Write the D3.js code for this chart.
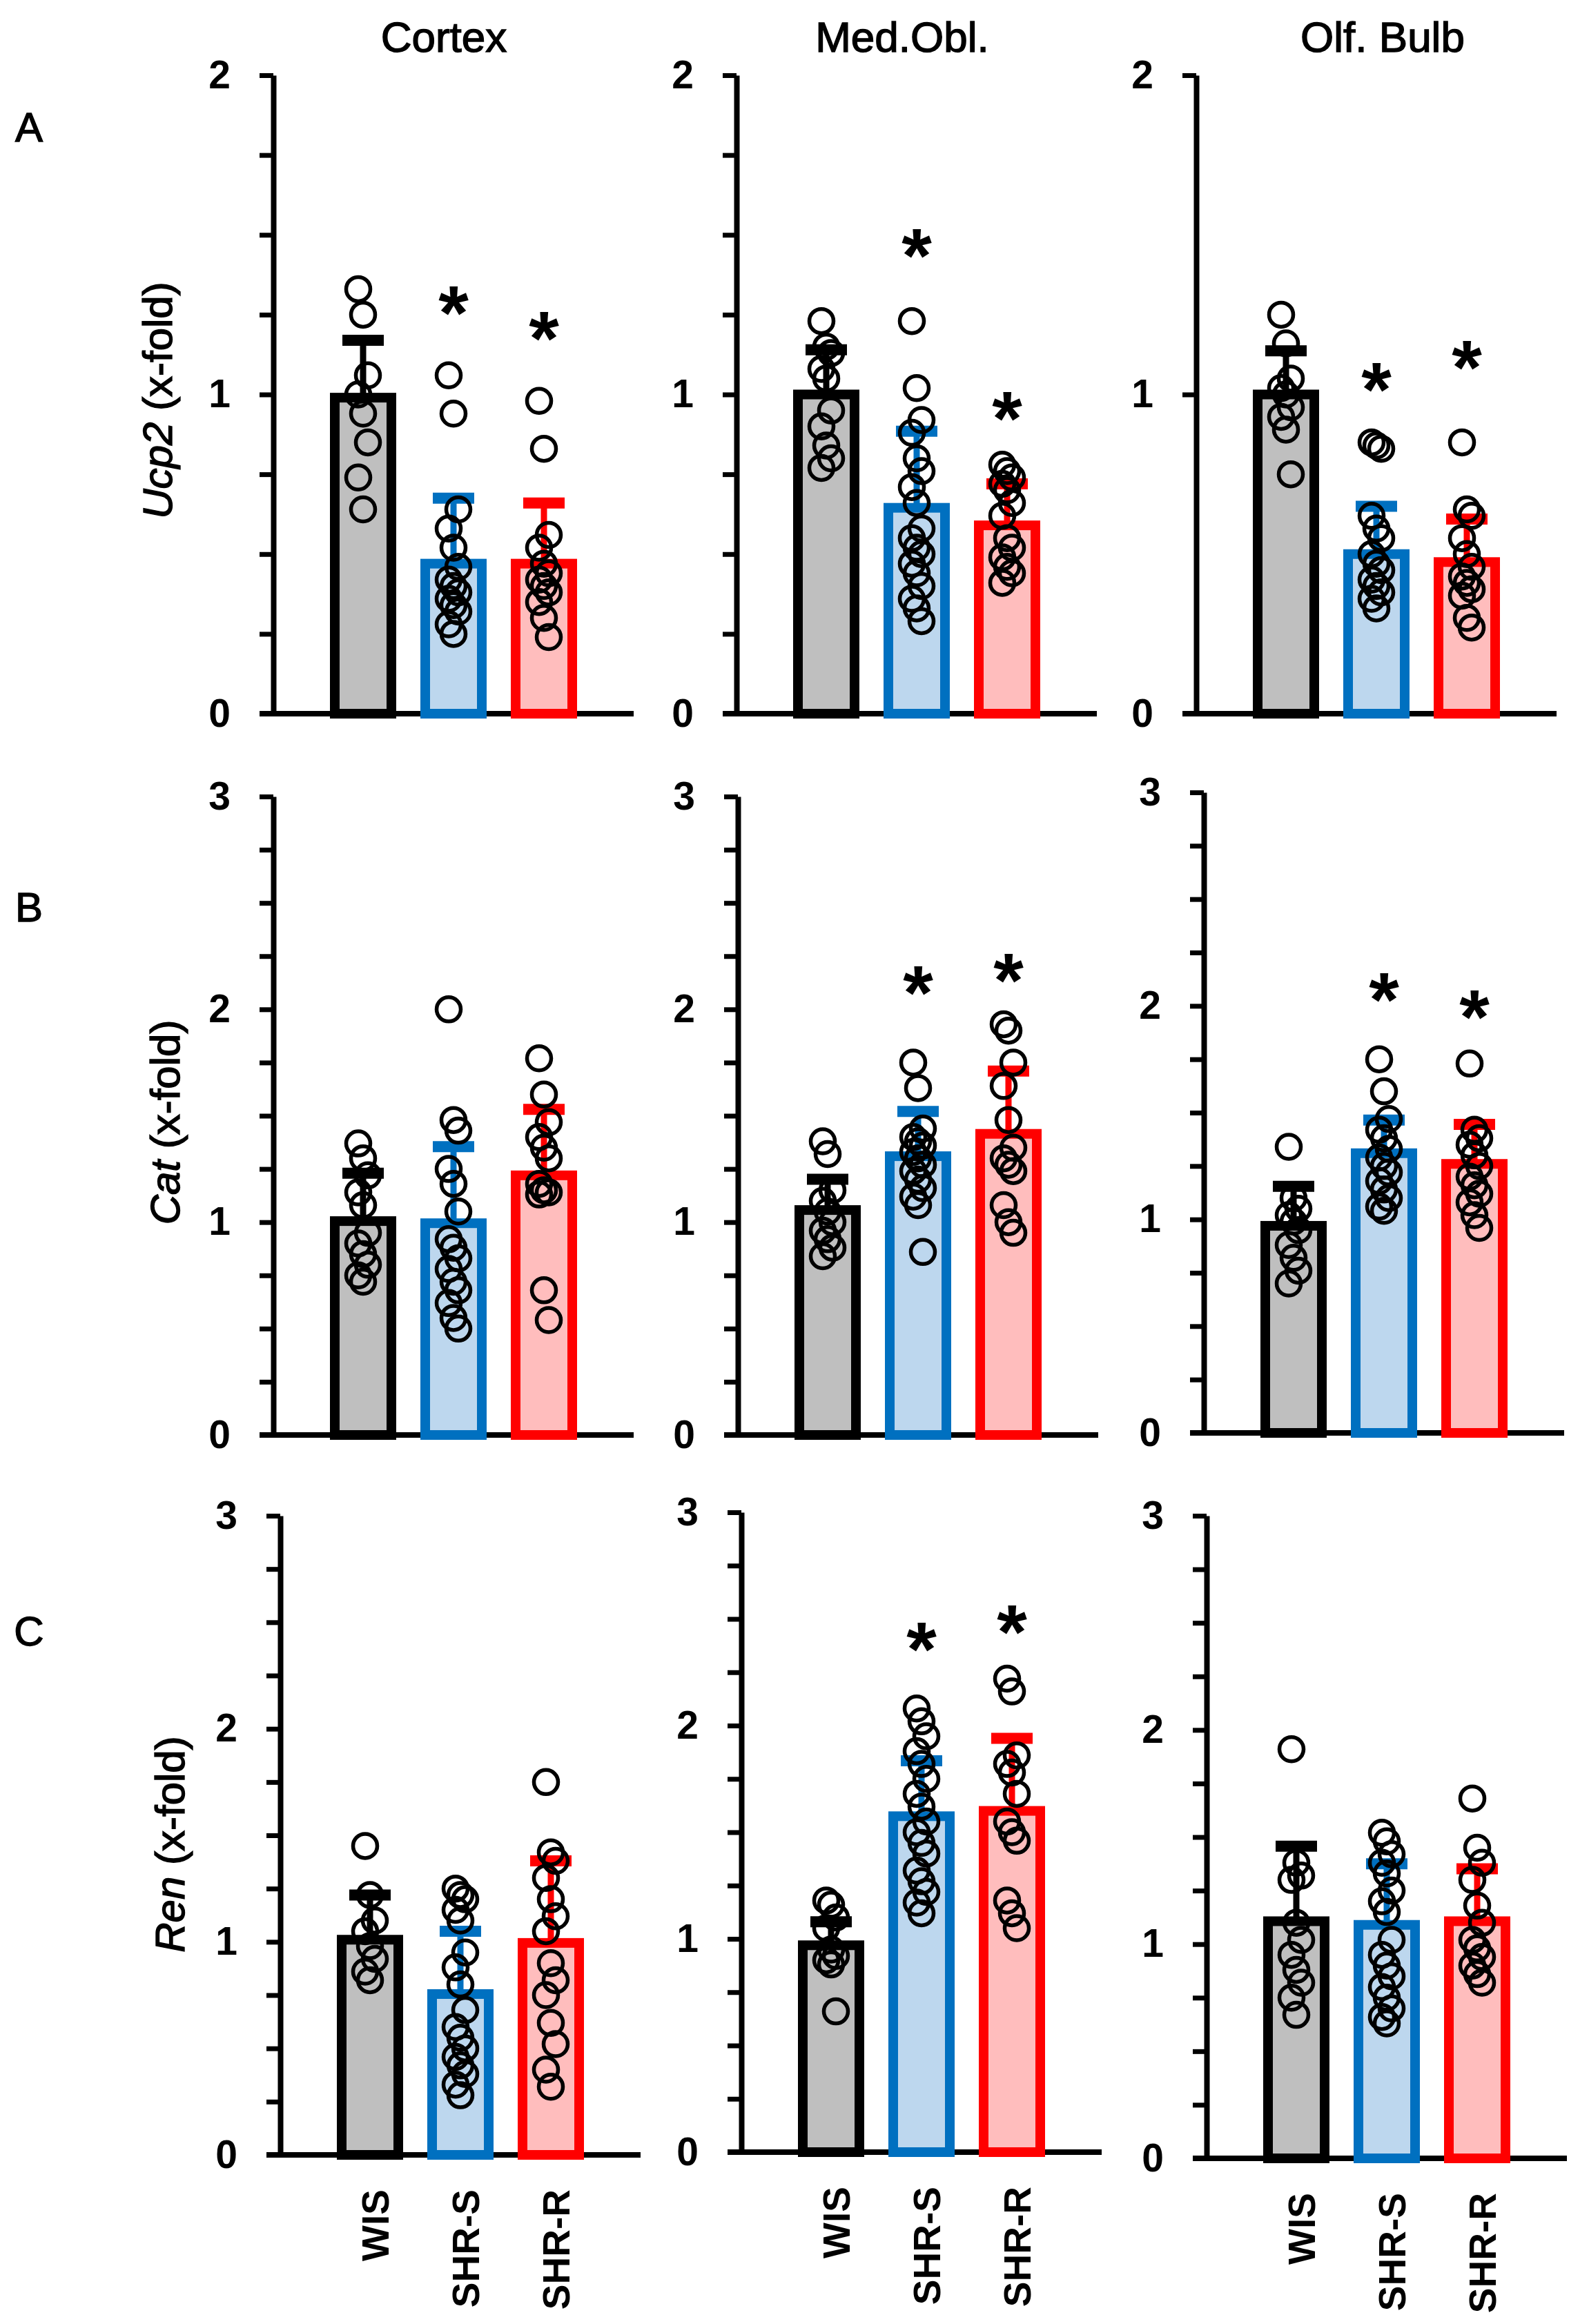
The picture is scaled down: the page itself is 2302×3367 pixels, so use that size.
<!DOCTYPE html>
<html>
<head>
<meta charset="utf-8">
<script src="https://cdn.jsdelivr.net/npm/d3@7"></script>
<style>
  body { margin: 0; background: #fff; }
  text { font-family: "Liberation Sans", Arial, sans-serif; fill: #000; }
  .heavy { stroke: #000; stroke-width: 1.4px; }
</style>
</head>
<body>
<svg id="chart"></svg>
<script>
// Categories
const regions = ["Cortex", "Med.Obl.", "Olf. Bulb"];
const genes = ["Ucp2", "Cat", "Ren"];
const panelLetters = ["A", "B", "C"];
const groups = ["WIS", "SHR-S", "SHR-R"];
const yMax = [2, 3, 3];
const tickLabels = [[0, 1, 2], [0, 1, 2, 3], [0, 1, 2, 3]];

// Means and SD, indexed [region][group]
const meanUcp2 = [[0.99, 0.47, 0.47], [1.0, 0.645, 0.59], [1.0, 0.50, 0.475]];
const sdUcp2 = [[0.18, 0.205, 0.19], [0.14, 0.24, 0.13], [0.137, 0.15, 0.135]];
const meanCat = [[1.005, 0.995, 1.22], [1.057, 1.31, 1.415], [0.97, 1.31, 1.26]];
const sdCat = [[0.225, 0.36, 0.31], [0.145, 0.21, 0.295], [0.185, 0.155, 0.185]];
const meanRen = [[1.01, 0.755, 0.995], [0.97, 1.575, 1.60], [1.107, 1.09, 1.107]];
const sdRen = [[0.21, 0.295, 0.385], [0.11, 0.26, 0.34], [0.35, 0.285, 0.245]];

// Individual animals, indexed [region][group]
const pointsUcp2 = [
  [[1.33, 1.25, 1.06, 1.0, 0.94, 0.85, 0.74, 0.64],
   [1.06, 0.94, 0.64, 0.58, 0.52, 0.46, 0.42, 0.40, 0.38, 0.36, 0.34, 0.32, 0.28, 0.25],
   [0.98, 0.83, 0.56, 0.52, 0.47, 0.44, 0.42, 0.40, 0.38, 0.35, 0.30, 0.24]],
  [[1.23, 1.15, 1.13, 1.08, 1.05, 0.95, 0.90, 0.84, 0.80, 0.77],
   [1.23, 1.02, 0.92, 0.88, 0.80, 0.76, 0.71, 0.66, 0.58, 0.55, 0.52, 0.50, 0.47, 0.44, 0.40, 0.36, 0.33, 0.29],
   [0.78, 0.76, 0.74, 0.72, 0.70, 0.66, 0.62, 0.55, 0.52, 0.49, 0.46, 0.44, 0.41]],
  [[1.25, 1.16, 1.05, 1.02, 1.0, 0.96, 0.93, 0.89, 0.75],
   [0.85, 0.84, 0.83, 0.62, 0.58, 0.55, 0.50, 0.47, 0.45, 0.42, 0.40, 0.38, 0.36, 0.33],
   [0.85, 0.64, 0.62, 0.55, 0.50, 0.46, 0.43, 0.41, 0.39, 0.37, 0.30, 0.27]]
];
const pointsCat = [
  [[1.37, 1.30, 1.22, 1.14, 1.08, 0.95, 0.90, 0.85, 0.80, 0.75, 0.72],
   [2.0, 1.48, 1.43, 1.25, 1.18, 1.05, 0.92, 0.88, 0.83, 0.78, 0.72, 0.68, 0.62, 0.55, 0.50],
   [1.77, 1.60, 1.47, 1.40, 1.35, 1.30, 1.18, 1.15, 1.14, 1.13, 0.68, 0.54]],
  [[1.38, 1.32, 1.15, 1.10, 1.05, 1.0, 0.96, 0.92, 0.88, 0.84],
   [1.75, 1.63, 1.44, 1.40, 1.38, 1.36, 1.33, 1.30, 1.27, 1.24, 1.20, 1.16, 1.12, 1.08, 0.86],
   [1.93, 1.90, 1.75, 1.64, 1.48, 1.35, 1.30, 1.27, 1.24, 1.08, 1.0, 0.95]],
  [[1.34, 1.10, 1.05, 1.02, 0.99, 0.95, 0.88, 0.82, 0.76, 0.70],
   [1.75, 1.60, 1.47, 1.42, 1.38, 1.33, 1.29, 1.25, 1.22, 1.18, 1.14, 1.10, 1.06, 1.04],
   [1.73, 1.42, 1.38, 1.35, 1.30, 1.25, 1.20, 1.16, 1.12, 1.08, 1.02, 0.96]]
];
const pointsRen = [
  [[1.45, 1.22, 1.10, 1.05, 0.98, 0.92, 0.86, 0.82],
   [1.25, 1.22, 1.20, 1.15, 1.10, 0.95, 0.88, 0.80, 0.68, 0.60, 0.55, 0.50, 0.46, 0.42, 0.38, 0.33, 0.28],
   [1.75, 1.42, 1.38, 1.30, 1.20, 1.12, 1.05, 0.90, 0.82, 0.75, 0.62, 0.52, 0.40, 0.32]],
  [[1.18, 1.16, 1.10, 1.05, 0.95, 0.92, 0.90, 0.88, 0.66],
   [2.08, 2.02, 1.95, 1.88, 1.82, 1.75, 1.68, 1.62, 1.55, 1.50, 1.45, 1.40, 1.32, 1.27, 1.22, 1.17, 1.12],
   [2.22, 2.16, 1.86, 1.82, 1.78, 1.68, 1.55, 1.50, 1.46, 1.18, 1.12, 1.05]],
  [[1.91, 1.38, 1.32, 1.30, 1.10, 1.02, 0.95, 0.88, 0.82, 0.75, 0.67],
   [1.52, 1.48, 1.42, 1.38, 1.33, 1.25, 1.20, 1.15, 1.02, 0.95, 0.90, 0.85, 0.80, 0.75, 0.70, 0.66, 0.63],
   [1.68, 1.45, 1.38, 1.30, 1.18, 1.10, 1.02, 0.98, 0.94, 0.90, 0.86, 0.82]]
];

// Significance marks (height of the asterisk), null = none
const starsUcp2 = [[null, 1.31, 1.23], [null, 1.49, 0.98], [null, 1.07, 1.14]];
const starsCat = [[null, null, null], [null, 2.16, 2.22], [null, 2.11, 2.03]];
const starsRen = [[null, null, null], [null, 2.44, 2.52], [null, null, null]];

const means = [meanUcp2, meanCat, meanRen];
const sds = [sdUcp2, sdCat, sdRen];
const points = [pointsUcp2, pointsCat, pointsRen];
const stars = [starsUcp2, starsCat, starsRen];

// Layout
const W = 2302, H = 3367;
const rows = [
  { yTop: [109, 109, 109], yZero: [1034, 1034, 1034], axisX: [396, 1067, 1733], minor: [true, true, false], letterY: 184, labelX: 249, labelY: 580 },
  { yTop: [1154, 1154, 1148], yZero: [2079, 2079, 2076], axisX: [396, 1069, 1744], minor: [true, true, true], letterY: 1314, labelX: 260, labelY: 1626 },
  { yTop: [2196, 2191, 2196], yZero: [3122, 3118, 3127], axisX: [406, 1074, 1748], minor: [true, true, true], letterY: 2363, labelX: 267, labelY: 2672 }
];
const titleX = [643, 1307, 2003];

const fillColour = d3.scaleOrdinal().domain(groups).range(["#bfbfbf", "#bdd7ee", "#ffbdbd"]);
const strokeColour = d3.scaleOrdinal().domain(groups).range(["#000000", "#0070c0", "#ff0000"]);

const svg = d3.select("#chart").attr("width", W).attr("height", H);
svg.append("rect").attr("width", W).attr("height", H).attr("fill", "#fff");

// Column titles
svg.selectAll(".title")
  .data(regions)
  .enter()
  .append("text")
  .attr("class", "title heavy")
  .attr("x", (d, i) => titleX[i])
  .attr("y", 75)
  .attr("text-anchor", "middle")
  .style("font-size", "62px")
  .text(d => d);

genes.forEach((gene, r) => {
  const row = rows[r];

  // Panel letter
  svg.append("text")
    .attr("class", "heavy")
    .attr("x", 42)
    .attr("y", row.letterY)
    .attr("dy", "0.35em")
    .attr("text-anchor", "middle")
    .style("font-size", "60px")
    .text(panelLetters[r]);

  // Y axis label (gene in italics)
  const yl = svg.append("text")
    .attr("class", "heavy")
    .attr("transform", `translate(${row.labelX},${row.labelY}) rotate(-90)`)
    .attr("text-anchor", "middle")
    .style("font-size", "60px");
  yl.append("tspan").style("font-style", "italic").text(gene);
  yl.append("tspan").text(" (x-fold)");

  regions.forEach((region, c) => {
    const ax = row.axisX[c];
    const y = d3.scaleLinear().domain([0, yMax[r]]).range([row.yZero[c], row.yTop[c]]);
    const x = d3.scalePoint().domain(groups).range([ax + 130, ax + 392]);
    const g = svg.append("g");

    // Y axis
    const ticks = row.minor[c] ? d3.range(0, yMax[r] + 0.001, 0.25) : tickLabels[r];
    const yAxis = g.append("g")
      .attr("transform", `translate(${ax},0)`)
      .call(d3.axisLeft(y)
        .tickValues(ticks)
        .tickSize(20)
        .tickSizeOuter(0)
        .tickPadding(42)
        .tickFormat(d => tickLabels[r].includes(d) ? d : ""));
    yAxis.select(".domain").attr("stroke", "#000").attr("stroke-width", 8);
    yAxis.selectAll(".tick line").attr("stroke", "#000").attr("stroke-width", 7);
    yAxis.selectAll(".tick text")
      .style("font-size", "57px")
      .style("font-weight", "bold")
      .attr("font-family", null)
      .attr("fill", "#000");

    // X axis line
    g.append("line")
      .attr("x1", ax - 20)
      .attr("x2", ax + 522)
      .attr("y1", y(0))
      .attr("y2", y(0))
      .attr("stroke", "#000")
      .attr("stroke-width", 8);

    const data = groups.map((grp, k) => ({
      group: grp,
      mean: means[r][c][k],
      sd: sds[r][c][k],
      pts: points[r][c][k],
      star: stars[r][c][k]
    }));

    // Bars
    g.selectAll(".bar")
      .data(data)
      .enter()
      .append("rect")
      .attr("x", d => x(d.group) - 41)
      .attr("width", 82)
      .attr("y", d => y(d.mean))
      .attr("height", d => y(0) - y(d.mean))
      .attr("fill", d => fillColour(d.group))
      .attr("stroke", d => strokeColour(d.group))
      .attr("stroke-width", 14);

    // Error bars (upper SD only)
    g.selectAll(".whisker")
      .data(data)
      .enter()
      .append("line")
      .attr("x1", d => x(d.group))
      .attr("x2", d => x(d.group))
      .attr("y1", d => y(d.mean))
      .attr("y2", d => y(d.mean + d.sd))
      .attr("stroke", d => strokeColour(d.group))
      .attr("stroke-width", 9);

    g.selectAll(".cap")
      .data(data)
      .enter()
      .append("line")
      .attr("x1", d => x(d.group) - 30)
      .attr("x2", d => x(d.group) + 30)
      .attr("y1", d => y(d.mean + d.sd))
      .attr("y2", d => y(d.mean + d.sd))
      .attr("stroke", d => strokeColour(d.group))
      .attr("stroke-width", 16);

    // Individual points
    data.forEach(d => {
      g.selectAll(null)
        .data(d.pts)
        .enter()
        .append("circle")
        .attr("cx", (v, i) => x(d.group) + ((i % 3) - 1) * 7)
        .attr("cy", v => y(v))
        .attr("r", 17.5)
        .attr("fill", "none")
        .attr("stroke", "#000")
        .attr("stroke-width", 5.5);
    });

    // Asterisks
    g.selectAll(".star")
      .data(data.filter(d => d.star !== null))
      .enter()
      .append("text")
      .attr("x", d => x(d.group))
      .attr("y", d => y(d.star) + 64)
      .attr("text-anchor", "middle")
      .style("font-size", "112px")
      .style("font-weight", "bold")
      .text("*");

    // Group labels on the bottom row
    if (r === genes.length - 1) {
      g.selectAll(".xlabel")
        .data(groups)
        .enter()
        .append("text")
        .attr("transform", d => `translate(${x(d) + 27},${y(0) + 50}) rotate(-90)`)
        .attr("text-anchor", "end")
        .style("font-size", "55px")
        .style("font-weight", "bold")
        .text(d => d);
    }
  });
});
</script>
</body>
</html>
